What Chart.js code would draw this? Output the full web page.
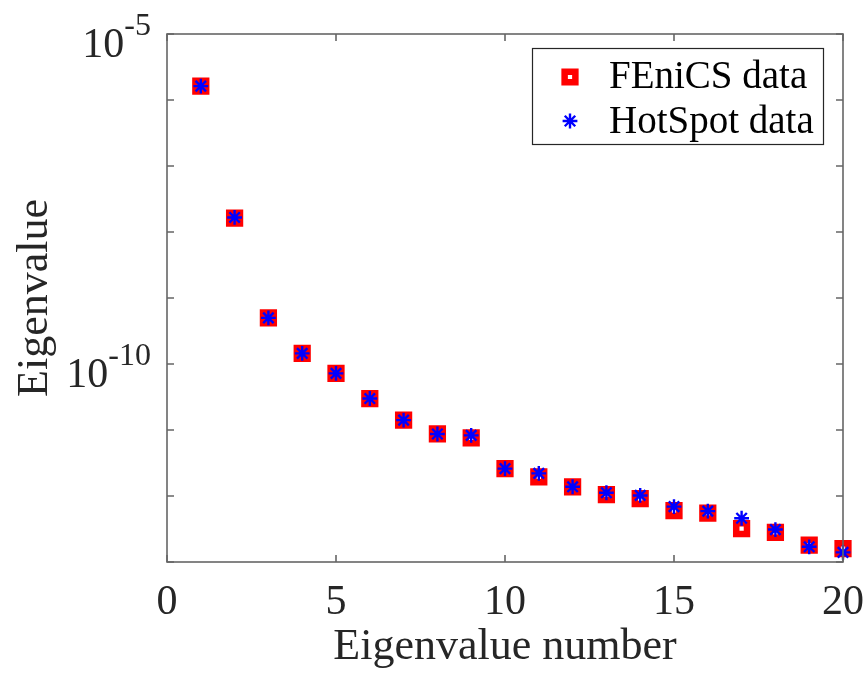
<!DOCTYPE html>
<html>
<head>
<meta charset="utf-8">
<script src="https://cdn.jsdelivr.net/npm/chart.js@4.4.1/dist/chart.umd.min.js"></script>
<style>
  html, body { margin: 0; padding: 0; background: #fff; }
  #wrap { width: 867px; height: 675px; }
</style>
</head>
<body>
<div id="wrap"><canvas id="eig"></canvas></div>
<script>
// eigenvalue index 1..20
const eigIndex = [1, 2, 3, 4, 5, 6, 7, 8, 9, 10, 11, 12, 13, 14, 15, 16, 17, 18, 19, 20];
const fenicsVals = [1.62e-6, 1.62e-8, 5.0e-10, 1.45e-10, 7.2e-11, 3.0e-11, 1.41e-11, 8.7e-12, 7.6e-12, 2.6e-12,
                    1.95e-12, 1.38e-12, 1.05e-12, 9.1e-13, 6.0e-13, 5.5e-13, 3.2e-13, 2.8e-13, 1.8e-13, 1.6e-13];
const hotspotVals = [1.62e-6, 1.66e-8, 5.0e-10, 1.45e-10, 7.2e-11, 3.0e-11, 1.41e-11, 8.7e-12, 8.3e-12, 2.6e-12,
                     2.2e-12, 1.38e-12, 1.12e-12, 1.02e-12, 6.9e-13, 5.9e-13, 4.6e-13, 3.1e-13, 1.7e-13, 1.4e-13];
const seriesNames = ['FEniCS data', 'HotSpot data'];
const xTicks = [0, 5, 10, 15, 20];
const yDecades = [-13, -12, -11, -10, -9, -8, -7, -6, -5];
const yLabelDecades = [-5, -10];

const SERIF = "'Liberation Serif', 'Times New Roman', serif";
const TXT = '#262626';
const AXIS = '#666666';

const squareStyle = { pointStyle: 'rect', radius: 7.6, borderWidth: 6.5, rotation: 0 };
const starStyle = { pointStyle: 'star', radius: 7.4, borderWidth: 2.4, rotation: 0 };

// box, inward ticks, power-of-ten labels and the legend
const matlabAxes = {
  id: 'matlabAxes',
  afterDraw(chart) {
    const { ctx, chartArea: a, scales: { x, y } } = chart;
    ctx.save();
    ctx.strokeStyle = AXIS;
    ctx.lineWidth = 1.6;
    ctx.strokeRect(a.left, a.top, a.right - a.left, a.bottom - a.top);
    const tl = 7;
    ctx.beginPath();
    xTicks.forEach(v => {
      const px = x.getPixelForValue(v);
      ctx.moveTo(px, a.bottom); ctx.lineTo(px, a.bottom - tl);
      ctx.moveTo(px, a.top); ctx.lineTo(px, a.top + tl);
    });
    yDecades.forEach(e => {
      const py = y.getPixelForValue(Math.pow(10, e));
      ctx.moveTo(a.left, py); ctx.lineTo(a.left + tl, py);
      ctx.moveTo(a.right, py); ctx.lineTo(a.right - tl, py);
    });
    ctx.stroke();

    // 10^n labels
    ctx.fillStyle = TXT;
    ctx.textBaseline = 'alphabetic';
    ctx.textAlign = 'left';
    yLabelDecades.forEach(e => {
      const py = y.getPixelForValue(Math.pow(10, e));
      const exp = String(e);
      ctx.font = '32px ' + SERIF;
      const ew = ctx.measureText(exp).width;
      ctx.font = '42px ' + SERIF;
      const bw = ctx.measureText('10').width;
      const right = a.left - 16;
      ctx.fillText('10', right - ew - bw, py + 23);
      ctx.font = '32px ' + SERIF;
      ctx.fillText(exp, right - ew, py + 1);
    });

    // legend
    const lx = 532, ly = 48, lw = 291, lh = 96;
    ctx.fillStyle = '#fff';
    ctx.fillRect(lx, ly, lw, lh);
    ctx.strokeStyle = TXT;
    ctx.lineWidth = 1.2;
    ctx.strokeRect(lx + 0.5, ly + 0.5, lw, lh);
    const ds = chart.data.datasets;
    const rows = [{ y: 77, base: 88 }, { y: 121, base: 133 }];
    rows.forEach((r, i) => {
      const d = ds[i];
      ctx.fillStyle = d.pointBackgroundColor;
      ctx.strokeStyle = d.pointBorderColor;
      ctx.lineWidth = d.pointBorderWidth;
      Chart.helpers.drawPoint(ctx, i === 0 ? squareStyle : starStyle, 570, r.y);
      ctx.fillStyle = '#000';
      ctx.font = '39px ' + SERIF;
      ctx.fillText(d.label, 609, r.base);
    });
    ctx.restore();
  }
};

new Chart(document.getElementById('eig'), {
  type: 'scatter',
  data: {
    datasets: [
      {
        label: seriesNames[0],
        data: eigIndex.map((n, i) => ({ x: n, y: fenicsVals[i] })),
        pointStyle: squareStyle.pointStyle,
        pointRadius: squareStyle.radius,
        pointBorderWidth: squareStyle.borderWidth,
        pointBorderColor: '#ff0000',
        pointBackgroundColor: '#ffffff',
        order: 2,
        clip: false
      },
      {
        label: seriesNames[1],
        data: eigIndex.map((n, i) => ({ x: n, y: hotspotVals[i] })),
        pointStyle: starStyle.pointStyle,
        pointRadius: starStyle.radius,
        pointBorderWidth: starStyle.borderWidth,
        pointBorderColor: '#0000ff',
        pointBackgroundColor: '#0000ff',
        order: 1,
        clip: false
      }
    ]
  },
  options: {
    responsive: true,
    maintainAspectRatio: false,
    animation: false,
    events: [],
    layout: { padding: { top: 34, right: 24, left: 0, bottom: 0 } },
    plugins: { legend: { display: false }, tooltip: { enabled: false } },
    scales: {
      x: {
        type: 'linear', min: 0, max: 20,
        afterBuildTicks: s => { s.ticks = xTicks.map(v => ({ value: v })); },
        afterFit: s => { s.height = 113; s.paddingLeft = 0; s.paddingRight = 0; },
        grid: { display: false, drawTicks: false },
        border: { display: false },
        ticks: { color: TXT, font: { family: SERIF, size: 42 }, padding: 16, maxRotation: 0 },
        title: { display: true, text: 'Eigenvalue number', color: TXT,
                 font: { family: SERIF, size: 44, lineHeight: 1 }, padding: { top: 0, bottom: 6 } }
      },
      y: {
        type: 'logarithmic', min: 1e-13, max: 1e-5,
        afterFit: s => { s.width = 167; s.paddingTop = 0; s.paddingBottom = 0; },
        grid: { display: false, drawTicks: false },
        border: { display: false },
        ticks: { display: false },
        title: { display: true, text: 'Eigenvalue', color: TXT,
                 font: { family: SERIF, size: 44, lineHeight: 1 }, padding: { top: 13, bottom: 0 } }
      }
    }
  },
  plugins: [matlabAxes]
});
</script>
</body>
</html>
